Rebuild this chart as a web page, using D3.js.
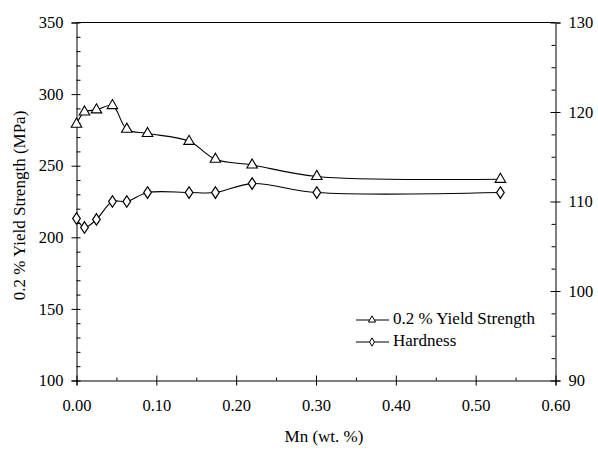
<!DOCTYPE html>
<html><head><meta charset="utf-8">
<script src="https://cdn.jsdelivr.net/npm/d3@7"></script>
<style>body{margin:0;background:#fff}svg{display:block}svg text{font-family:"Liberation Serif","Times New Roman","DejaVu Serif",serif !important;fill:#000}</style>
</head><body><svg id="c" width="598" height="456"></svg>
<script>
const mn = [0.00, 0.01, 0.025, 0.045, 0.063, 0.089, 0.141, 0.174, 0.220, 0.301, 0.531];
const yieldStrength = [279, 287.5, 289, 292, 275.5, 272.5, 267, 254.5, 250.5, 242.5, 240.5];
const hardness = [108.1, 107.1, 108.0, 110.0, 110.0, 111.0, 111.0, 111.0, 112.0, 111.0, 111.0];
const xTicks = [0, 0.1, 0.2, 0.3, 0.4, 0.5, 0.6];
const yLeftTicks = [100, 150, 200, 250, 300, 350];
const yRightTicks = [90, 100, 110, 120, 130];
const seriesNames = ["0.2 % Yield Strength", "Hardness"];

const L = 76.5, R = 555.5, T = 22.5, B = 380.5;
const svg = d3.select("#c");
const x = d3.scaleLinear().domain([0, 0.6]).range([L, R]);
const yL = d3.scaleLinear().domain([100, 350]).range([B, T]);
const yR = d3.scaleLinear().domain([90, 130]).range([B, T]);
const fs = 16.5, fsT = 17;
const FF = '"Liberation Serif","Times New Roman","DejaVu Serif",serif';

svg.append("line").attr("x1", L).attr("x2", R).attr("y1", T).attr("y2", T).attr("stroke", "#000");

function styleAxis(g){ g.attr("font-family", FF).attr("font-size", fs); g.select(".domain").attr("stroke","#000"); g.selectAll("line").attr("stroke","#000"); g.selectAll("text").attr("font-family", FF); }

svg.append("g").attr("transform", `translate(0,${B})`)
  .call(d3.axisTop(x).tickValues(d3.range(0.05, 0.6, 0.1)).tickSize(3).tickFormat(""))
  .call(g => { g.select(".domain").remove(); g.selectAll("line").attr("stroke","#000"); });
svg.append("g").attr("transform", `translate(0,${B})`)
  .call(d3.axisBottom(x).tickValues(xTicks).tickSize(5).tickPadding(14).tickFormat(d3.format(".2f")))
  .call(styleAxis)
  .call(g => g.selectAll(".tick line").attr("y1", -5));
svg.append("g").attr("transform", `translate(${L},0)`)
  .call(d3.axisRight(yL).tickValues(d3.range(110, 350, 10).filter(v => v % 50 !== 0)).tickSize(4).tickFormat(""))
  .call(g => { g.select(".domain").remove(); g.selectAll("line").attr("stroke","#000"); });
svg.append("g").attr("transform", `translate(${L},0)`)
  .call(d3.axisLeft(yL).tickValues(yLeftTicks).tickSize(5).tickPadding(8))
  .call(styleAxis)
  .call(g => g.selectAll(".tick line").attr("x1", 4));
svg.append("g").attr("transform", `translate(${R},0)`)
  .call(d3.axisLeft(yR).tickValues(d3.range(92.5, 130, 2.5).filter(v => v % 10 !== 0)).tickSize(4).tickFormat(""))
  .call(g => { g.select(".domain").remove(); g.selectAll("line").attr("stroke","#000"); });
svg.append("g").attr("transform", `translate(${R},0)`)
  .call(d3.axisRight(yR).tickValues(yRightTicks).tickSize(5).tickPadding(8))
  .call(styleAxis)
  .call(g => g.selectAll(".tick line").attr("x1", -5));

svg.append("text").attr("transform", `translate(21,${(T+B)/2 + 4}) rotate(-90)`).attr("text-anchor","middle")
  .attr("dominant-baseline","middle").attr("font-family", FF).attr("font-size", fsT).text("0.2 % Yield Strength (MPa)");
svg.append("text").attr("x", 324).attr("y", 442).attr("text-anchor","middle").attr("font-family", FF).attr("font-size", fsT).text("Mn (wt. %)");

const curve = d3.curveCatmullRom.alpha(0.5);
const tri = d3.symbol().type(d3.symbolTriangle);
const dia = d3.symbol().type(d3.symbolDiamond);

const ys = mn.map((m,i)=>({x:m, y:yieldStrength[i]}));
const hs = mn.map((m,i)=>({x:m, y:hardness[i]}));
svg.append("path").datum(ys).attr("fill","none").attr("stroke","#000").attr("stroke-width",1.1)
  .attr("d", d3.line().x(d=>x(d.x)).y(d=>yL(d.y)).curve(curve));
svg.append("path").datum(hs).attr("fill","none").attr("stroke","#000").attr("stroke-width",1.1)
  .attr("d", d3.line().x(d=>x(d.x)).y(d=>yR(d.y)).curve(curve));
svg.selectAll(".tri").data(ys).join("path").attr("class","tri")
  .attr("transform", d=>`translate(${x(d.x)},${yL(d.y)})`).attr("d", tri.size(48)())
  .attr("fill","#fff").attr("stroke","#000").attr("stroke-width",1.1);
svg.selectAll(".dia").data(hs).join("path").attr("class","dia")
  .attr("transform", d=>`translate(${x(d.x)},${yR(d.y)}) scale(1.15,1)`).attr("d", dia.size(38)())
  .attr("fill","#fff").attr("stroke","#000").attr("stroke-width",1.1);

const lg = svg.append("g");
const rows = [{n:seriesNames[0], s:tri, sz:22, y:320}, {n:seriesNames[1], s:dia, sz:20, y:342}];
rows.forEach(r => {
  lg.append("line").attr("x1",356).attr("x2",389).attr("y1",r.y).attr("y2",r.y).attr("stroke","#000");
  lg.append("path").attr("transform",`translate(372,${r.y})`).attr("d", r.s.size(r.sz)()).attr("fill","#fff").attr("stroke","#000");
  lg.append("text").attr("x",393).attr("y",r.y).attr("dominant-baseline","middle").attr("font-family", FF).attr("font-size", fsT).text(r.n);
});
</script></body></html>
